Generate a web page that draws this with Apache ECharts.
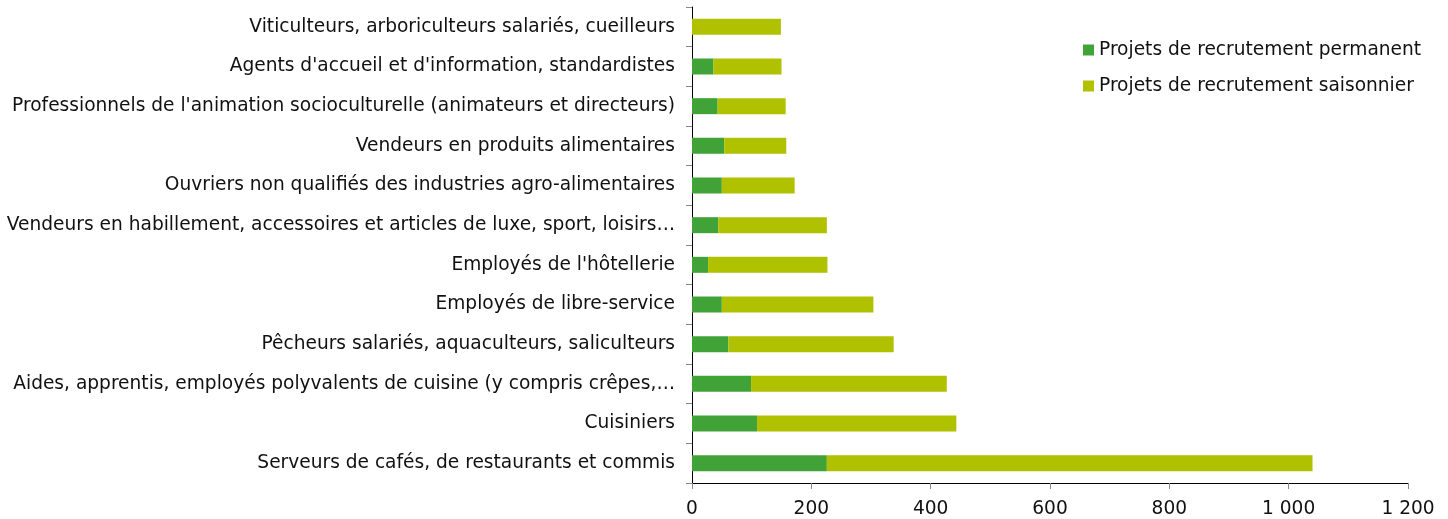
<!DOCTYPE html>
<html>
<head>
<meta charset="utf-8">
<script src="https://cdn.jsdelivr.net/npm/echarts@6/dist/echarts.min.js"></script>
<style>
  html, body { margin: 0; padding: 0; background: #fff; }
  #chart { width: 1448px; height: 519px; }
</style>
</head>
<body>
<div id="chart"></div>
<script>
// métiers, du bas vers le haut
const categories = [
  'Serveurs de cafés, de restaurants et commis',
  'Cuisiniers',
  'Aides, apprentis, employés polyvalents de cuisine (y compris crêpes,…',
  'Pêcheurs salariés, aquaculteurs, saliculteurs',
  'Employés de libre-service',
  "Employés de l'hôtellerie",
  'Vendeurs en habillement, accessoires et articles de luxe, sport, loisirs…',
  'Ouvriers non qualifiés des industries agro-alimentaires',
  'Vendeurs en produits alimentaires',
  "Professionnels de l'animation socioculturelle (animateurs et directeurs)",
  "Agents d'accueil et d'information, standardistes",
  'Viticulteurs, arboriculteurs salariés, cueilleurs'
]
const permanent = [226, 109, 99, 61, 50, 27, 44, 50, 54, 43, 36, 0]
const saisonnier = [814, 334, 328, 277, 254, 200, 182, 122, 104, 114, 114, 149]
const xTicks = [0, 200, 400, 600, 800, 1000, 1200]

const font = 'DejaVu Sans'
const fs = 18.6

let chart = echarts.init(document.getElementById('chart'))

// format 1 000
function fmt(v) {
  return String(v).replace(/\B(?=(\d{3})+(?!\d))/g, ' ')
}

chart.setOption({
  animation: false,
  textStyle: { fontFamily: font },
  grid: { left: 692, right: 40, top: 7, bottom: 36, containLabel: false },
  legend: {
    orient: 'vertical',
    left: 1078,
    top: 35,
    itemWidth: 11,
    itemHeight: 11,
    itemGap: 16,
    icon: 'rect',
    textStyle: { fontFamily: font, fontSize: fs, lineHeight: 20, color: '#111' },
    data: ['Projets de recrutement permanent', 'Projets de recrutement saisonnier']
  },
  xAxis: {
    type: 'value',
    min: xTicks[0],
    max: xTicks[xTicks.length - 1],
    interval: 200,
    axisLine: { show: true, lineStyle: { color: '#000', width: 1 } },
    axisTick: { show: true, length: 6, lineStyle: { color: '#888' } },
    splitLine: { show: false },
    axisLabel: {
      fontFamily: font, fontSize: fs, color: '#111', margin: 17,
      formatter: fmt
    }
  },
  yAxis: {
    type: 'category',
    data: categories,
    axisLine: { show: true, lineStyle: { color: '#000', width: 1 } },
    axisTick: { show: true, length: 6, lineStyle: { color: '#888' } },
    axisLabel: { fontFamily: font, fontSize: fs, color: '#111', margin: 17 }
  },
  series: [
    {
      name: 'Projets de recrutement permanent',
      type: 'bar',
      stack: 'total',
      barWidth: 16,
      itemStyle: { color: '#41a337' },
      data: permanent
    },
    {
      name: 'Projets de recrutement saisonnier',
      type: 'bar',
      stack: 'total',
      barWidth: 16,
      itemStyle: { color: '#b0c100' },
      data: saisonnier
    }
  ]
})
</script>
</body>
</html>
